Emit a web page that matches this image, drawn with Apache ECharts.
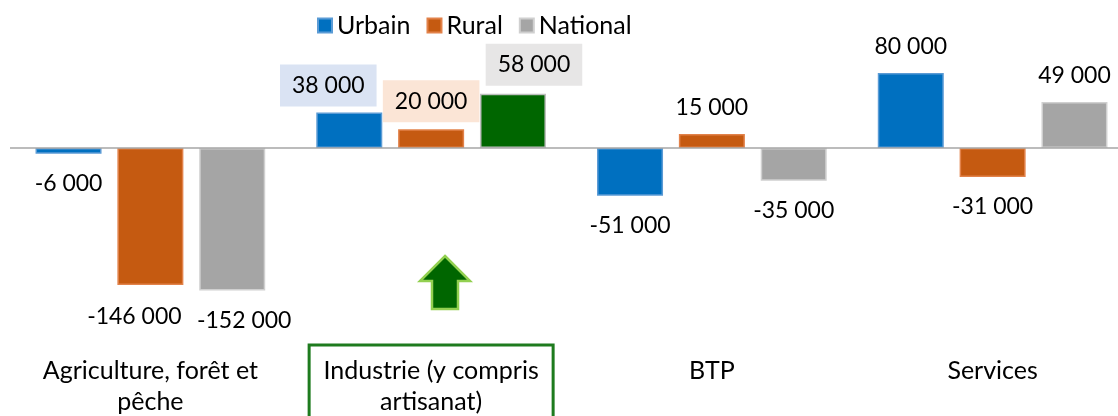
<!DOCTYPE html>
<html>
<head>
<meta charset="utf-8">
<script src="https://cdn.jsdelivr.net/npm/echarts@6/dist/echarts.min.js"></script>
<style>
  html, body { margin: 0; padding: 0; background: #fff; }
  #chart { width: 1118px; height: 416px; }
</style>
</head>
<body>
<div id="chart"></div>
<script>
// Employment change by sector and area
const categories = ['Agriculture, forêt et\npêche', 'Industrie (y compris\nartisanat)', 'BTP', 'Services'];
const seriesNames = ['Urbain', 'Rural', 'National'];
const urbain = [-6000, 38000, -51000, 80000];
const rural = [-146000, 20000, 15000, -31000];
const national = [-152000, 58000, -35000, 49000];

const FONT = 'Lato, "Open Sans", sans-serif';
const colors = ['#0070C0', '#C55A11', '#A5A5A5'];
const borders = ['#5B9BD5', '#E2824A', '#D0D0D0'];
const HIGHLIGHT = 1; // sector index that is emphasised

function fmt(v) {
  const s = Math.abs(v).toString().replace(/\B(?=(\d{3})+(?!\d))/g, ' ');
  return (v < 0 ? '-' : '') + s;
}

// label tweaks per series / category
const labelExtra = {
  '1-0': { offset: [-16, 2] },
  '2-0': { offset: [12, 0] },
  '0-1': { backgroundColor: '#DAE3F3', padding: [7, 12], distance: 6, offset: [-21, 0] },
  '1-1': { backgroundColor: '#FBE5D6', padding: [7, 12], distance: 7, offset: [0, 0] },
  '2-1': { backgroundColor: '#E7E6E6', padding: [7, 12], distance: 8, offset: [21, 0] }
};

function buildSeries(name, values, si) {
  return {
    name: name,
    type: 'bar',
    barWidth: 66,
    barGap: '24%',
    itemStyle: { color: colors[si], borderColor: borders[si], borderWidth: 1.5 },
    data: values.map((v, i) => {
      const item = {
        value: v,
        label: Object.assign({
          show: true,
          position: v < 0 ? 'bottom' : 'top',
          distance: v < 0 ? 16 : 12,
          formatter: fmt(v)
        }, labelExtra[si + '-' + i] || {})
      };
      if (si === 2 && i === HIGHLIGHT) {
        item.itemStyle = { color: '#006600', borderColor: '#BFBFBF', borderWidth: 1.5 };
      }
      return item;
    }),
    label: {
      fontFamily: FONT,
      fontSize: 23,
      lineHeight: 28,
      color: '#000'
    },
    emphasis: { disabled: true },
    markLine: si === 0 ? {
      silent: true,
      symbol: ['none', 'none'],
      label: { show: false },
      lineStyle: { color: '#A6A6A6', width: 1.5, type: 'solid' },
      data: [{ yAxis: 0 }]
    } : undefined
  };
}

const chart = echarts.init(document.getElementById('chart'), null, { renderer: 'canvas' });

chart.setOption({
  animation: false,
  legend: {
    data: seriesNames,
    left: 312,
    top: 8,
    icon: 'rect',
    itemWidth: 14,
    itemHeight: 14,
    itemGap: 16,
    textStyle: { fontFamily: FONT, fontSize: 25, color: '#000' }
  },
  grid: { left: 10, top: 16.75, width: 1123, height: 281.25, containLabel: false, outerBoundsMode: 'none' },
  xAxis: {
    type: 'category',
    data: categories.map((c, i) => i === HIGHLIGHT ? {
      value: c,
      textStyle: { borderColor: '#1E7B1E', borderWidth: 3, padding: [10, 12, 40, 12] }
    } : c),
    axisLine: { show: false, onZero: false },
    axisTick: { show: false },
    axisLabel: {
      margin: 47,
      interval: 0,
      fontFamily: FONT,
      fontSize: 25,
      lineHeight: 31,
      color: '#000',
      padding: [10, 0, 0, 0],
      // fixed-width line boxes keep each wrapped line centred
      formatter: v => v.split('\n').map(s => '{c|' + s + '}').join('\n'),
      rich: {
        c: { width: 220, align: 'center', fontFamily: FONT, fontSize: 25, lineHeight: 31, color: '#000' }
      }
    }
  },
  yAxis: {
    type: 'value',
    min: -160000,
    max: 140000,
    show: false,
    splitLine: { show: false }
  },
  graphic: [{
    type: 'polygon',
    shape: {
      points: [[445, 256], [470, 281], [458, 281], [458, 309], [432, 309], [432, 281], [420, 281]]
    },
    style: { fill: '#006600', stroke: '#92D050', lineWidth: 2.5 }
  }],
  series: [
    buildSeries('Urbain', urbain, 0),
    buildSeries('Rural', rural, 1),
    buildSeries('National', national, 2)
  ]
});
</script>
</body>
</html>
